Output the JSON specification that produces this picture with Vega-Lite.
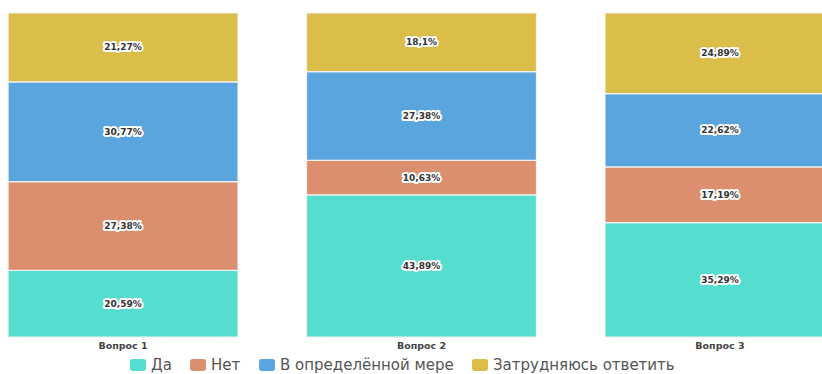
{
  "$schema": "https://vega.github.io/schema/vega-lite/v6.json",
  "autosize": "none",
  "width": 822,
  "height": 324,
  "padding": {"left": 0, "top": 13, "right": 0, "bottom": 37},
  "background": "white",
  "data": {
    "values": [
      {"question": "Вопрос 1", "answer": "Да", "value": 0.2059},
      {"question": "Вопрос 1", "answer": "Нет", "value": 0.2738},
      {"question": "Вопрос 1", "answer": "В определённой мере", "value": 0.3077},
      {"question": "Вопрос 1", "answer": "Затрудняюсь ответить", "value": 0.2127},
      {"question": "Вопрос 2", "answer": "Да", "value": 0.4389},
      {"question": "Вопрос 2", "answer": "Нет", "value": 0.1063},
      {"question": "Вопрос 2", "answer": "В определённой мере", "value": 0.2738},
      {"question": "Вопрос 2", "answer": "Затрудняюсь ответить", "value": 0.181},
      {"question": "Вопрос 3", "answer": "Да", "value": 0.3529},
      {"question": "Вопрос 3", "answer": "Нет", "value": 0.1719},
      {"question": "Вопрос 3", "answer": "В определённой мере", "value": 0.2262},
      {"question": "Вопрос 3", "answer": "Затрудняюсь ответить", "value": 0.2489}
    ]
  },
  "transform": [
    {"calculate": "indexof(['Да','Нет','В определённой мере','Затрудняюсь ответить'], datum.answer)", "as": "ord"},
    {"stack": "value", "groupby": ["question"], "sort": [{"field": "ord", "order": "ascending"}], "offset": "normalize", "as": ["y0", "y1"]},
    {"calculate": "(datum.y0 + datum.y1) / 2", "as": "ymid"}
  ],
  "encoding": {
    "x": {
      "field": "question",
      "type": "nominal",
      "scale": {"range": [0, 843], "paddingInner": 0.2295, "paddingOuter": 0.027},
      "axis": {
        "title": null,
        "domain": false,
        "ticks": false,
        "labelAngle": 0,
        "labelFont": "DejaVu Sans",
        "labelFontSize": 9.5,
        "labelFontWeight": "bold",
        "labelColor": "#444444",
        "labelPadding": 3
      }
    }
  },
  "layer": [
    {
      "mark": {"type": "bar", "stroke": "#f2f2f2", "strokeWidth": 1.2},
      "encoding": {
        "y": {"field": "y1", "type": "quantitative", "scale": {"domain": [0, 1], "nice": false}, "axis": null},
        "y2": {"field": "y0"},
        "color": {
          "field": "answer",
          "type": "nominal",
          "sort": ["Да", "Нет", "В определённой мере", "Затрудняюсь ответить"],
          "scale": {
            "domain": ["Да", "Нет", "В определённой мере", "Затрудняюсь ответить"],
            "range": ["#55DDD0", "#DB8F6F", "#5AA5DD", "#DBBD4A"]
          },
          "legend": {
            "title": null,
            "orient": "none",
            "direction": "horizontal",
            "legendX": 130,
            "legendY": 344,
            "padding": 0,
            "labelFont": "DejaVu Sans",
            "labelFontSize": 15,
            "labelColor": "#555555",
            "labelOffset": 5,
            "labelLimit": 400,
            "columnPadding": 18,
            "symbolType": "M-0.7,-0.75 L0.7,-0.75 Q1,-0.75 1,-0.45 L1,0.45 Q1,0.75 0.7,0.75 L-0.7,0.75 Q-1,0.75 -1,0.45 L-1,-0.45 Q-1,-0.75 -0.7,-0.75 Z",
            "symbolSize": 256,
            "symbolStrokeWidth": 0,
            "symbolOpacity": 1
          }
        }
      }
    },
    {
      "mark": {"type": "text", "font": "DejaVu Sans", "fontSize": 9, "fontWeight": "bold", "stroke": "white", "strokeWidth": 4, "strokeJoin": "round", "fill": "white"},
      "encoding": {
        "y": {"field": "ymid", "type": "quantitative"},
        "text": {"field": "value", "type": "quantitative", "format": ".2~%"}
      }
    },
    {
      "mark": {"type": "text", "font": "DejaVu Sans", "fontSize": 9, "fontWeight": "bold", "fill": "#333333"},
      "encoding": {
        "y": {"field": "ymid", "type": "quantitative"},
        "text": {"field": "value", "type": "quantitative", "format": ".2~%"}
      }
    }
  ],
  "config": {
    "view": {"stroke": null},
    "locale": {"number": {"decimal": ",", "thousands": " ", "grouping": [3], "currency": ["", " ₽"]}}
  }
}
